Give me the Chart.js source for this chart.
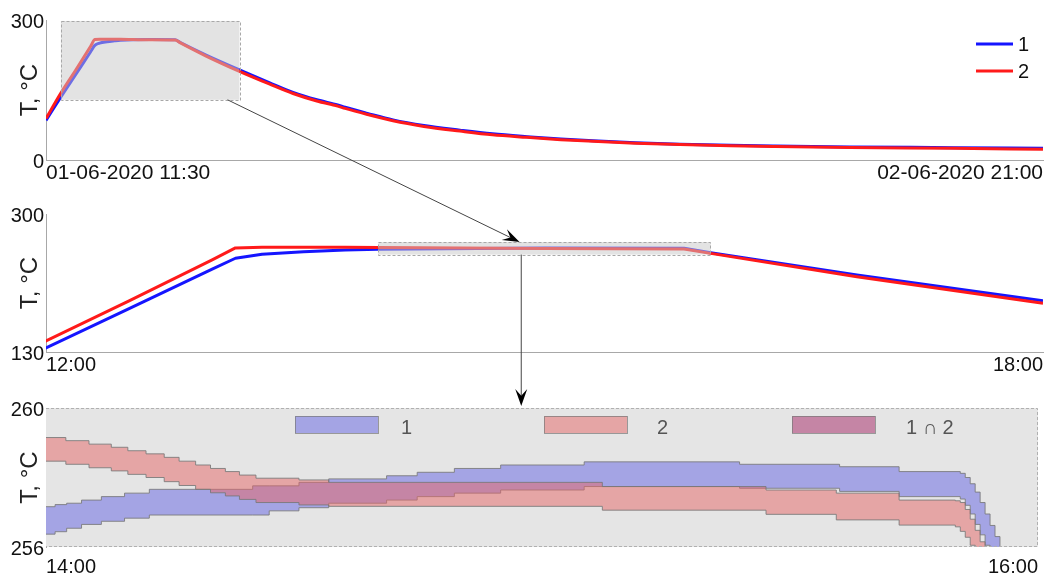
<!DOCTYPE html>
<html>
<head>
<meta charset="utf-8">
<script src="https://cdn.jsdelivr.net/npm/chart.js@4"></script>
<style>
  html, body { margin: 0; padding: 0; background: #fff; }
  #wrap { position: relative; width: 1046px; height: 576px; }
  .panel { position: absolute; left: 0; width: 1046px; }
  #overlay { position: absolute; left: 0; top: 0; pointer-events: none; }
</style>
</head>
<body>
<div id="wrap">
  <div class="panel" style="top:0px"><canvas id="c1" width="1046" height="190"></canvas></div>
  <div class="panel" style="top:190px"><canvas id="c2" width="1046" height="190"></canvas></div>
  <div class="panel" style="top:385px"><canvas id="c3" width="1046" height="191"></canvas></div>
  <canvas id="overlay" width="1046" height="576"></canvas>
</div>
<script>
// Overview series: hours since 00:00 on 01-06-2020, temperature in °C
const hours = [11.5, 12, 12.5, 13, 13.14, 13.3, 13.55, 13.8, 14, 15, 15.84, 16, 16.88, 18, 19, 19.8, 20.6, 21.3, 21.55, 22.3, 23.16, 24.2, 25.41, 26.5, 27.66, 28.8, 29.88, 31.3, 32.8, 34.5, 36, 38.5, 42, 45];
const temp1 = [85, 135, 183.5, 232, 245.5, 250.5, 253.6, 255.5, 256.7, 258.0, 257.8, 252.3, 224.9, 193.2, 166, 145, 129, 118, 113, 100, 86, 74, 64, 56, 50, 45, 41, 37, 34, 31.5, 30, 28, 26.5, 25];
const temp2 = [89, 143.6, 193, 243.6, 258.2, 259, 259, 258.9, 258.8, 257.5, 257.0, 251.5, 222.8, 190, 163, 142.5, 126.5, 115.5, 110.5, 97.5, 84, 72, 62, 54, 48.5, 43.5, 40, 36, 33, 30.5, 29, 27, 25, 23];
const seriesNames = ['1', '2'];

// Uncertainty bands for the detail panel: minutes after 14:00
const band1Min = [0, 1.1, 2.5, 4.3, 6.7, 9.5, 12.5, 25, 27, 30.6, 34.2, 41.2, 44.9, 49.4, 55, 65.1, 83.9, 96, 103.2, 110.6, 111.2, 111.8, 112.4, 113, 113.6, 114.2, 114.8, 115.4, 116, 117, 120];
const band1Upper = [257.16, 257.22, 257.26, 257.35, 257.45, 257.55, 257.66, 257.76, 257.76, 257.86, 257.96, 258.05, 258.15, 258.26, 258.36, 258.45, 258.38, 258.31, 258.17, 258.12, 258.0, 257.82, 257.58, 257.28, 256.95, 256.62, 256.3, 255.98, 255.6, 255.0, 254];
const band1Lower = [256.37, 256.44, 256.54, 256.65, 256.74, 256.83, 256.92, 256.92, 257.04, 257.13, 257.26, 257.35, 257.45, 257.55, 257.64, 257.74, 257.69, 257.6, 257.45, 257.38, 257.2, 256.95, 256.65, 256.35, 256.05, 255.75, 255.4, 255.1, 254.8, 254.3, 253.5];
const band2Min = [0, 2.4, 5.2, 7.9, 9.9, 12.1, 14.3, 16.1, 18.1, 19.9, 21.7, 23.4, 25.4, 30.6, 34.2, 67.3, 87.1, 95.6, 103.2, 110.0, 110.6, 111.2, 111.8, 112.4, 113.0, 113.6, 114.2, 115, 120];
const band2Upper = [259.15, 259.06, 258.96, 258.87, 258.77, 258.68, 258.58, 258.47, 258.36, 258.26, 258.17, 258.07, 257.98, 257.93, 257.86, 257.74, 257.64, 257.55, 257.35, 257.33, 257.28, 257.08, 256.8, 256.48, 256.15, 255.8, 255.45, 255, 254];
const band2Lower = [258.47, 258.38, 258.28, 258.19, 258.09, 258.0, 257.88, 257.77, 257.66, 257.56, 257.47, 257.37, 257.28, 257.21, 257.17, 257.06, 256.94, 256.78, 256.63, 256.58, 256.45, 256.28, 256.05, 255.75, 255.45, 255.1, 254.8, 254.3, 253.5];
const bandNames = ['1', '2', '1 \u2229 2'];

// Axis ranges and tick labels
const x1Range = [11.5, 45], y1Ticks = [0, 300];
const x2Range = [12, 18], y2Ticks = [130, 300];
const x3Range = [0, 120], y3Ticks = [256, 260];
const x1Labels = ['01-06-2020 11:30', '02-06-2020 21:00'];
const x2Labels = ['12:00', '18:00'];
const x3Labels = ['14:00', '16:00'];
const yTitle = 'T, \u00B0C';

// Zoom windows (data units) and arrow anchors (hours)
const zoom1 = { x: [12, 18], y: [129, 298] };
const zoom2 = { x: [14, 16], y: [250, 265.5] };
const arrow1 = { from: 17.6, to: 14.85 };
const arrow2 = { at: 14.86 };

const FONT = "'Liberation Sans', Arial, sans-serif";
Chart.defaults.font.family = FONT;

const BLUE = '#1515ff';
const RED = '#ff1a1a';
const BAND1 = 'rgba(99, 99, 227, 0.5)';
const BAND2 = 'rgba(229, 103, 103, 0.51)';
const EDGE = 'rgba(120, 120, 120, 0.85)';

function pts(xs, ys) {
    return xs.map((x, i) => ({ x: x, y: ys[i] }));
}

// Common options for the three panels
function panelOptions(o) {
    return {
        responsive: false,
        animation: false,
        events: [],
        layout: { padding: { top: o.padTop, right: 3, left: 0, bottom: 0 } },
        plugins: { legend: { display: false }, tooltip: { enabled: false } },
        scales: {
            x: {
                type: 'linear',
                min: o.xRange[0],
                max: o.xRange[1],
                afterBuildTicks: s => { s.ticks = o.xRange.map(v => ({ value: v })); },
                afterFit: s => { s.height = o.xHeight; },
                grid: { display: false, drawTicks: false },
                border: { display: o.xBorder, color: '#a8a8a8' },
                ticks: {
                    align: 'inner', maxRotation: 0, autoSkip: false, padding: o.xPad,
                    color: '#111', font: { size: o.xFont || 20 },
                    callback: (v, i) => o.xLabels[i]
                }
            },
            y: {
                min: o.yTicks[0],
                max: o.yTicks[1],
                afterBuildTicks: s => { s.ticks = o.yTicks.map(v => ({ value: v })); },
                afterFit: s => { s.width = 46; },
                grid: { display: false, drawTicks: false },
                border: { color: '#a8a8a8' },
                ticks: { padding: 2, labelOffset: 2, color: '#111', font: { size: 20 } },
                title: {
                    display: true, text: yTitle, color: '#222',
                    font: { size: 24 }, padding: { top: 16, bottom: 0 }
                }
            }
        }
    };
}

function lineSet(label, data, color, smooth) {
    const ds = {
        label: label, data: data, borderColor: color, borderWidth: 3,
        pointRadius: 0, fill: false, tension: 0, borderJoinStyle: 'round'
    };
    if (smooth) ds.cubicInterpolationMode = 'monotone';
    return ds;
}

// Shaded zoom window drawn over the lines
function zoomRectPlugin(win) {
    return {
        id: 'zoomRect',
        afterDatasetsDraw(chart) {
            const { ctx, scales: { x, y } } = chart;
            const x0 = x.getPixelForValue(win.x[0]), x1 = x.getPixelForValue(win.x[1]);
            const y0 = y.getPixelForValue(win.y[1]), y1 = y.getPixelForValue(win.y[0]);
            ctx.save();
            ctx.fillStyle = 'rgba(200, 200, 200, 0.5)';
            ctx.fillRect(x0, y0, x1 - x0, y1 - y0);
            ctx.strokeStyle = '#a8a8a8';
            ctx.lineWidth = 1;
            ctx.setLineDash([3, 2]);
            ctx.strokeRect(Math.round(x0) + 0.5, Math.round(y0) + 0.5, Math.round(x1 - x0), Math.round(y1 - y0));
            ctx.restore();
        }
    };
}

// Panel 1: whole run
const chart1 = new Chart(document.getElementById('c1'), {
    type: 'line',
    data: {
        datasets: [
            lineSet(seriesNames[1], pts(hours, temp2), RED, true),
            lineSet(seriesNames[0], pts(hours, temp1), BLUE, true)
        ]
    },
    options: panelOptions({ padTop: 20, xRange: x1Range, yTicks: y1Ticks, xLabels: x1Labels, xHeight: 30, xPad: 1, xBorder: true, xFont: 21 }),
    plugins: [zoomRectPlugin(zoom1), {
        id: 'lineLegend',
        afterDraw(chart) {
            const { ctx, chartArea: a } = chart;
            const cols = [BLUE, RED];
            ctx.save();
            ctx.font = '20px ' + FONT;
            ctx.textBaseline = 'middle';
            ctx.fillStyle = '#111';
            seriesNames.forEach((name, i) => {
                const yy = a.top + 24 + i * 27;
                ctx.strokeStyle = cols[i];
                ctx.lineWidth = 3;
                ctx.beginPath();
                ctx.moveTo(a.right - 67, yy);
                ctx.lineTo(a.right - 30, yy);
                ctx.stroke();
                ctx.fillText(name, a.right - 25, yy + 1);
            });
            ctx.restore();
        }
    }]
});

// Panel 2: 12:00 - 18:00
const chart2 = new Chart(document.getElementById('c2'), {
    type: 'line',
    data: {
        datasets: [
            lineSet(seriesNames[1], pts(hours, temp2), RED, false),
            lineSet(seriesNames[0], pts(hours, temp1), BLUE, false)
        ]
    },
    options: panelOptions({ padTop: 24, xRange: x2Range, yTicks: y2Ticks, xLabels: x2Labels, xHeight: 28, xPad: 1, xBorder: true }),
    plugins: [zoomRectPlugin(zoom2)]
});

// Panel 3: 14:00 - 16:00 bands
function bandEdge(xs, ys, fill, color) {
    return {
        data: pts(xs, ys), stepped: true, borderColor: EDGE, borderWidth: 1,
        pointRadius: 0, fill: fill, backgroundColor: color
    };
}

const chart3 = new Chart(document.getElementById('c3'), {
    type: 'line',
    data: {
        datasets: [
            bandEdge(band2Min, band2Lower, false, BAND2),
            bandEdge(band2Min, band2Upper, '-1', BAND2),
            bandEdge(band1Min, band1Lower, false, BAND1),
            bandEdge(band1Min, band1Upper, '-1', BAND1)
        ]
    },
    options: panelOptions({ padTop: 23, xRange: x3Range, yTicks: y3Ticks, xLabels: x3Labels, xHeight: 29, xPad: 8, xBorder: false }),
    plugins: [{
        id: 'bandFrame',
        beforeDatasetsDraw(chart) {
            const { ctx, chartArea: a } = chart;
            ctx.save();
            ctx.fillStyle = '#e5e5e5';
            ctx.fillRect(a.left, a.top, a.right - a.left, a.bottom - a.top);
            ctx.restore();
        },
        afterDraw(chart) {
            const { ctx, chartArea: a } = chart;
            ctx.save();
            ctx.strokeStyle = '#b0b0b0';
            ctx.lineWidth = 1;
            ctx.setLineDash([3, 2]);
            ctx.beginPath();
            ctx.moveTo(a.left, a.top + 0.5);
            ctx.lineTo(a.right - 0.5, a.top + 0.5);
            ctx.lineTo(a.right - 0.5, a.bottom - 0.5);
            ctx.lineTo(a.left, a.bottom - 0.5);
            ctx.stroke();
            ctx.setLineDash([]);

            // legend boxes
            const fills = [[BAND1], [BAND2], [BAND1, BAND2]];
            const offs = [249, 498, 746];
            const textOffs = [106, 113, 114];
            ctx.font = '20px ' + FONT;
            ctx.textBaseline = 'middle';
            bandNames.forEach((name, i) => {
                const bx = a.left + offs[i], by = a.top + 8;
                fills[i].forEach(c => { ctx.fillStyle = c; ctx.fillRect(bx, by, 83, 17); });
                ctx.strokeStyle = 'rgba(120, 120, 120, 0.7)';
                ctx.strokeRect(bx + 0.5, by + 0.5, 83, 17);
                ctx.fillStyle = '#555';
                ctx.fillText(name, bx + textOffs[i], by + 12);
            });
            ctx.restore();
        }
    }]
});

// Arrows linking the zoom windows
function drawArrow(ctx, x1, y1, x2, y2) {
    const a = Math.atan2(y2 - y1, x2 - x1), L = 17, W = 6;
    const bx = x2 - 0.6 * L * Math.cos(a), by = y2 - 0.6 * L * Math.sin(a);
    ctx.strokeStyle = '#444';
    ctx.lineWidth = 1;
    ctx.beginPath();
    ctx.moveTo(x1, y1);
    ctx.lineTo(bx, by);
    ctx.stroke();
    ctx.fillStyle = '#000';
    ctx.beginPath();
    ctx.moveTo(x2, y2);
    ctx.lineTo(x2 - L * Math.cos(a) + W * Math.sin(a), y2 - L * Math.sin(a) - W * Math.cos(a));
    ctx.lineTo(bx, by);
    ctx.lineTo(x2 - L * Math.cos(a) - W * Math.sin(a), y2 - L * Math.sin(a) + W * Math.cos(a));
    ctx.closePath();
    ctx.fill();
}

const ov = document.getElementById('overlay').getContext('2d');
const top1 = chart1.canvas.parentNode.offsetTop;
const top2 = chart2.canvas.parentNode.offsetTop;
const top3 = chart3.canvas.parentNode.offsetTop;

drawArrow(ov,
    chart1.scales.x.getPixelForValue(arrow1.from), top1 + chart1.scales.y.getPixelForValue(zoom1.y[0]),
    chart2.scales.x.getPixelForValue(arrow1.to), top2 + chart2.scales.y.getPixelForValue(zoom2.y[1]));

const ax = chart2.scales.x.getPixelForValue(arrow2.at);
drawArrow(ov,
    ax, top2 + chart2.scales.y.getPixelForValue(zoom2.y[0]),
    ax, top3 + chart3.chartArea.top - 2);
</script>
</body>
</html>
